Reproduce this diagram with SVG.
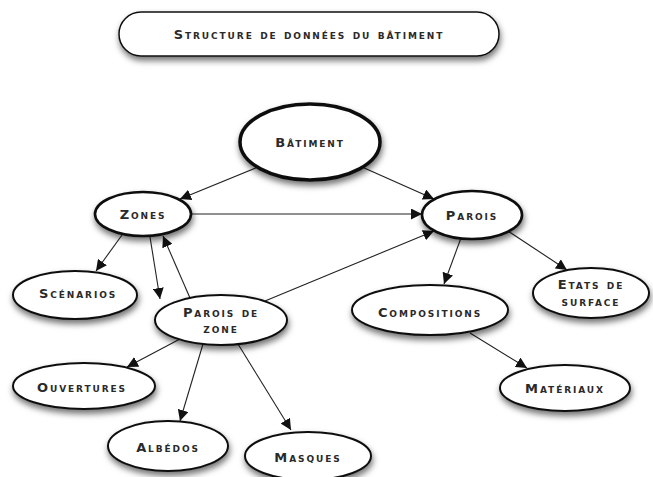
<svg xmlns="http://www.w3.org/2000/svg" width="653" height="477" viewBox="0 0 653 477">
<style>
.n{fill:#fff;stroke:#111;stroke-width:2;filter:url(#sh)}
.t{font-family:"DejaVu Sans","Liberation Sans",Arial,sans-serif;font-weight:bold;font-variant:small-caps;font-size:13px;fill:#2a2a2a;text-anchor:middle;letter-spacing:1.9px}
.e{stroke:#222;stroke-width:1.1;fill:none;marker-end:url(#ah)}
</style>
<defs>
<filter id="sh" x="-20%" y="-30%" width="140%" height="170%">
<feDropShadow dx="1" dy="4" stdDeviation="3" flood-color="#000" flood-opacity="0.55"/>
</filter>
<marker id="ah" viewBox="0 0 10 10" refX="10" refY="5" markerWidth="11" markerHeight="11" markerUnits="userSpaceOnUse" orient="auto">
<path d="M0,0 L10,5 L0,10 Z" fill="#111"/>
</marker>
</defs>
<g id="title">
<rect class="n" x="119" y="12" width="380" height="44" rx="22" style="stroke-width:1.5"/>
<text class="t" x="309" y="39">Structure de données du bâtiment</text>
</g>
<g id="connectors">
<line class="e" x1="258" y1="167" x2="180" y2="199"/>
<line class="e" x1="362" y1="167" x2="434" y2="199"/>
<line class="e" x1="192" y1="214" x2="422" y2="214"/>
<line class="e" x1="122" y1="235" x2="96" y2="271"/>
<line class="e" x1="150" y1="237" x2="160" y2="299"/>
<line class="e" x1="190" y1="298" x2="163" y2="236"/>
<line class="e" x1="265" y1="301" x2="434" y2="231"/>
<line class="e" x1="461" y1="238" x2="444" y2="284"/>
<line class="e" x1="508" y1="231" x2="567" y2="270"/>
<line class="e" x1="470" y1="333" x2="527" y2="368"/>
<line class="e" x1="180" y1="339" x2="127" y2="367"/>
<line class="e" x1="203" y1="344" x2="180" y2="421"/>
<line class="e" x1="238" y1="344" x2="291" y2="430"/>
</g>
<g id="batiment">
<ellipse class="n" cx="310" cy="142" rx="70" ry="38" style="stroke-width:3.5"/>
<text class="t" x="310" y="147">Bâtiment</text>
</g>
<g id="zones">
<ellipse class="n" cx="143" cy="214" rx="48" ry="22" style="stroke-width:2.6"/>
<text class="t" x="143" y="219">Zones</text>
</g>
<g id="parois">
<ellipse class="n" cx="472" cy="215" rx="50" ry="24" style="stroke-width:2.6"/>
<text class="t" x="472" y="220">Parois</text>
</g>
<g id="scenarios">
<ellipse class="n" cx="75" cy="295" rx="62" ry="24"/>
<text class="t" x="78" y="298">Scénarios</text>
</g>
<g id="paroisdezone">
<ellipse class="n" cx="221" cy="320" rx="66" ry="25"/>
<text class="t" x="221" y="317">Parois de</text>
<text class="t" x="221" y="333">zone</text>
</g>
<g id="compositions">
<ellipse class="n" cx="430" cy="310" rx="78" ry="25"/>
<text class="t" x="430" y="317">Compositions</text>
</g>
<g id="etats">
<ellipse class="n" cx="591" cy="293" rx="58" ry="25"/>
<text class="t" x="591" y="289">Etats de</text>
<text class="t" x="591" y="306">surface</text>
</g>
<g id="ouvertures">
<ellipse class="n" cx="84" cy="386" rx="71" ry="23"/>
<text class="t" x="82" y="392">Ouvertures</text>
</g>
<g id="materiaux">
<ellipse class="n" cx="565" cy="388" rx="65" ry="23"/>
<text class="t" x="565" y="393">Matériaux</text>
</g>
<g id="albedos">
<ellipse class="n" cx="168" cy="446" rx="60" ry="25"/>
<text class="t" x="168" y="452">Albédos</text>
</g>
<g id="masques">
<ellipse class="n" cx="308" cy="456" rx="63" ry="24"/>
<text class="t" x="308" y="462">Masques</text>
</g>
</svg>
